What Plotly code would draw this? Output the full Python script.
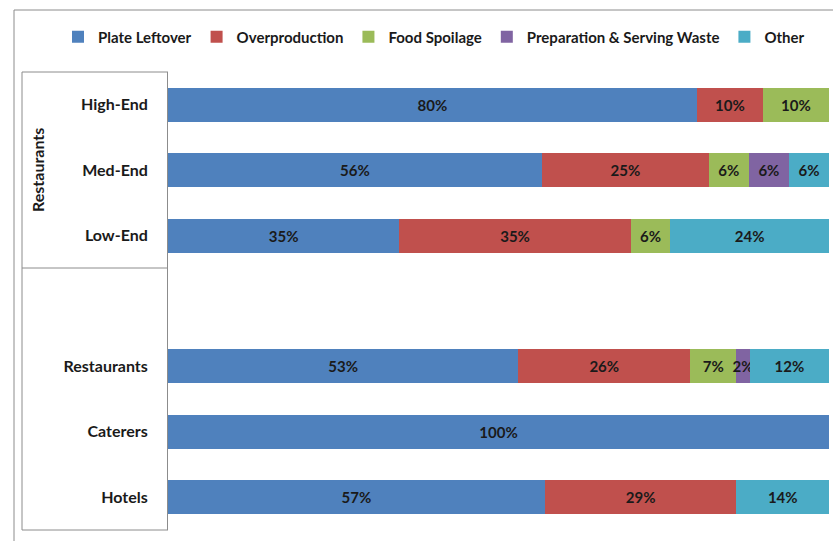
import plotly.graph_objects as go

# ---- data ----
categories = ["High-End", "Med-End", "Low-End", "Restaurants", "Caterers", "Hotels"]
axis_order = ["High-End", "Med-End", "Low-End", " ", "Restaurants", "Caterers", "Hotels"]
series_names = ["Plate Leftover", "Overproduction", "Food Spoilage",
                "Preparation & Serving Waste", "Other"]
plate_leftover = [80, 56, 35, 53, 100, 57]
overproduction = [10, 25, 35, 26, 0, 29]
food_spoilage = [10, 6, 6, 7, 0, 0]
prep_serving = [0, 6, 0, 2, 0, 0]
other = [0, 6, 24, 12, 0, 14]
group_label = "Restaurants"

colors = ["#4F81BD", "#C0504D", "#9BBB59", "#8064A2", "#4BACC6"]
FONT = "Lato"
W, H = 833, 541
ML, MR, MT, MB = 168, 4, 72, 11
PW, PH = W - ML - MR, H - MT - MB


def px(x):
    return (x - ML) / PW


def py(y):
    return (H - MB - y) / PH


fig = go.Figure()
for name, vals, col in zip(series_names,
                           [plate_leftover, overproduction, food_spoilage, prep_serving, other],
                           colors):
    fig.add_trace(go.Bar(
        y=categories, x=vals, orientation="h", name=name,
        marker=dict(color=col, line=dict(width=0)),
        text=[f"{v}%" if v else "" for v in vals],
        textposition="inside", insidetextanchor="middle", textangle=0,
        textfont=dict(family=FONT, size=15, color="#1a1a1a", weight="bold"),
        hoverinfo="skip",
    ))

line_col = "#8c8c8c"
shapes = [
    # outer frame
    dict(type="line", xref="paper", yref="paper", x0=px(14), x1=px(840), y0=py(10), y1=py(10)),
    dict(type="line", xref="paper", yref="paper", x0=px(14), x1=px(14), y0=py(10), y1=py(545)),
    # left category box
    dict(type="line", xref="paper", yref="paper", x0=px(22), x1=px(22), y0=py(72), y1=py(530)),
    dict(type="line", xref="paper", yref="paper", x0=px(22), x1=0, y0=1, y1=1),
    dict(type="line", xref="paper", yref="paper", x0=px(22), x1=0, y0=py(268), y1=py(268)),
    dict(type="line", xref="paper", yref="paper", x0=px(22), x1=0, y0=0, y1=0),
]
for s in shapes:
    s["line"] = dict(color=line_col, width=1)

fig.update_layout(
    width=W, height=H,
    margin=dict(l=ML, r=MR, t=MT, b=MB),
    paper_bgcolor="white", plot_bgcolor="white",
    barmode="stack", barnorm="percent", bargap=0.48,
    font=dict(family=FONT, size=16, color="#1a1a1a"),
    uniformtext=dict(minsize=15, mode="show"),
    showlegend=True,
    legend=dict(orientation="h", x=px(58), xanchor="left", y=py(37), yanchor="middle",
                font=dict(family=FONT, size=15, color="#1a1a1a", weight="bold"),
                traceorder="normal", itemwidth=30, bgcolor="rgba(0,0,0,0)"),
    xaxis=dict(range=[0, 100], visible=False, fixedrange=True),
    yaxis=dict(categoryorder="array", categoryarray=axis_order, autorange="reversed",
               showline=True, linecolor=line_col, linewidth=1, ticks="",
               ticklabelstandoff=16, showgrid=False, zeroline=False,
               tickfont=dict(family=FONT, size=16, color="#1a1a1a", weight="bold")),
    shapes=shapes,
    annotations=[dict(text=group_label, textangle=-90, xref="paper", yref="paper",
                      x=px(37), y=py(170), xanchor="center", yanchor="middle",
                      showarrow=False,
                      font=dict(family=FONT, size=16, color="#1a1a1a", weight="bold"))],
)

fig.write_html("out.html", config={"displayModeBar": False},
               post_script="document.body.style.margin='0';document.body.style.overflow='hidden';")
